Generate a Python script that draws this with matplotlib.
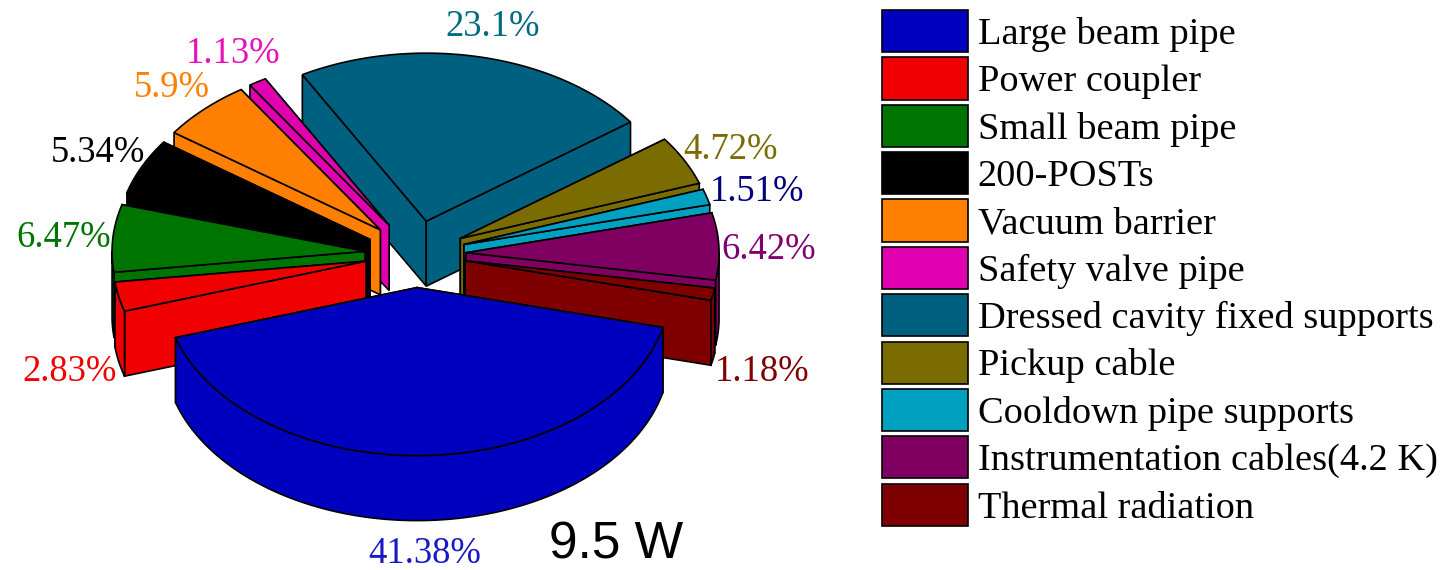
import numpy as np
import matplotlib
matplotlib.use("Agg")
import matplotlib.pyplot as plt
from matplotlib.patches import Patch

names = ["Large beam pipe", "Power coupler", "Small beam pipe", "200-POSTs",
         "Vacuum barrier", "Safety valve pipe", "Dressed cavity fixed supports",
         "Pickup cable", "Cooldown pipe supports", "Instrumentation cables(4.2 K)",
         "Thermal radiation"]
shares = [41.38, 2.83, 6.47, 5.34, 5.9, 1.13, 23.1, 4.72, 1.51, 6.42, 1.18]
share_labels = ["41.38%", "2.83%", "6.47%", "5.34%", "5.9%", "1.13%",
                "23.1%", "4.72%", "1.51%", "6.42%", "1.18%"]
total_label = "9.5 W"

colors = ["#0000BF", "#F00000", "#007400", "#000000", "#FF8000", "#E000B0",
          "#00607F", "#7A6C00", "#00A0C0", "#7F0060", "#7F0000"]
label_colors = ["#1818C8", "#F00000", "#007400", "#000000", "#FF8000", "#E810B8",
                "#006A80", "#7A6C00", "#00007F", "#7F0070", "#7F0000"]
# центры подписей в пикселях картинки
label_xy = [(425, 554), (70, 372), (64, 238), (98, 153), (172, 88), (233, 54),
            (493, 27), (730, 150), (757, 192), (769, 250), (762, 372)]

# геометрия псевдо-3D пирога
cx, cy = 415.5, 254
rx, ry = 253, 168
depth = 65
explode = 0.2
start_angle = 346.3

plt.rcParams['font.family'] = ['Liberation Serif', 'DejaVu Serif']

fig = plt.figure(figsize=(14.47, 5.70), dpi=100)
ax = fig.add_axes([0, 0, 1, 1])
ax.set_xlim(0, 1447)
ax.set_ylim(570, 0)
ax.axis('off')


def rim(ox, oy, deg):
    t = np.radians(deg)
    return ox + rx * np.cos(t), oy - ry * np.sin(t)


def draw_slice(hi, span, color):
    lo = hi - span
    mid = np.radians(hi - span / 2)
    ox = cx + explode * rx * np.cos(mid)
    oy = cy - explode * ry * np.sin(mid)

    # боковые грани: сначала дальняя, потом ближняя
    for deg in sorted([lo, hi], key=lambda d: -np.sin(np.radians(d))):
        x, y = rim(ox, oy, deg)
        ax.fill([ox, x, x, ox], [oy, y, y + depth, oy + depth],
                fc=color, ec='black', lw=1.2, joinstyle='miter')

    # внешняя стенка видна только в нижней половине эллипса
    t = np.linspace(lo, hi, 300)
    t = t[np.sin(np.radians(t)) <= 0]
    if len(t) > 1:
        x, y = rim(ox, oy, t)
        ax.fill(np.r_[x, x[::-1]], np.r_[y, y[::-1] + depth],
                fc=color, ec='black', lw=1.2, joinstyle='round')

    # верхняя грань
    t = np.linspace(lo, hi, 300)
    x, y = rim(ox, oy, t)
    ax.fill(np.r_[ox, x], np.r_[oy, y], fc=color, ec='black', lw=1.2, joinstyle='miter')


# по часовой стрелке от правого края синего сектора
spans = [s * 3.6 for s in shares]
hi_angles = start_angle - np.r_[0, np.cumsum(spans)[:-1]]
mids = hi_angles - np.array(spans) / 2

# задние секторы рисуем первыми
order = sorted(range(len(shares)), key=lambda i: -np.sin(np.radians(mids[i])))
for i in order:
    draw_slice(hi_angles[i], spans[i], colors[i])

for text, (x, y), c in zip(share_labels, label_xy, label_colors):
    ax.text(x, y, text, color=c, fontsize=26.4, ha='center', va='center')

ax.text(616, 545, total_label, color='black', fontsize=37, ha='center', va='center',
        family='Liberation Sans')

handles = [Patch(fc=c, ec='black', lw=1.2) for c in colors]
ax.legend(handles, names, loc='upper left', bbox_to_anchor=(882, 10),
          bbox_transform=ax.transData, frameon=False, fontsize=27.6,
          borderpad=0, borderaxespad=0, handlelength=2.24, handleheight=1.315,
          labelspacing=0.136, handletextpad=0.26)

fig.savefig("out.png", dpi=100)
